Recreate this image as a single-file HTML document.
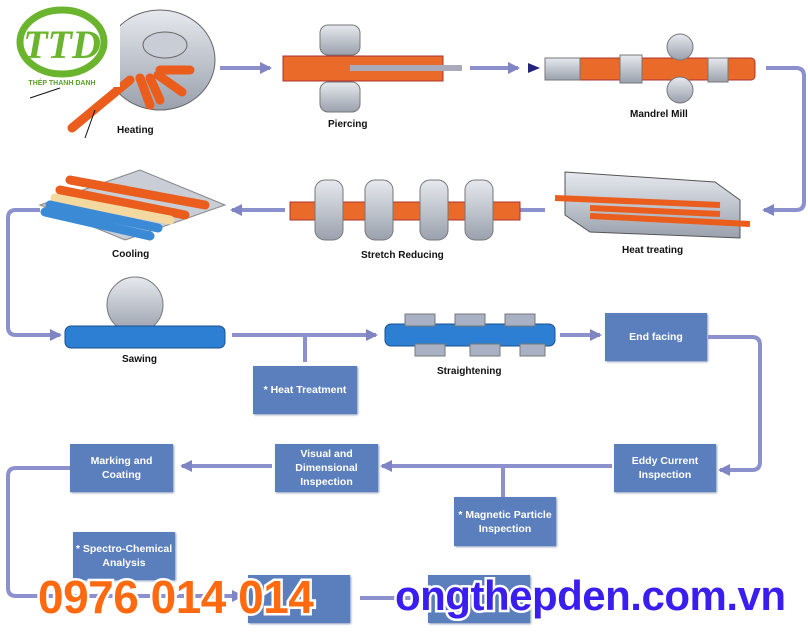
<!DOCTYPE html>
<html><head><meta charset="utf-8"><style>
body{margin:0;width:808px;height:632px;background:#fff;overflow:hidden;position:relative;font-family:"Liberation Sans",Arial,sans-serif}
.b{position:absolute;background:#5b7fbd;color:#fff;font-size:10.5px;font-weight:bold;text-align:center;display:flex;align-items:center;justify-content:center;line-height:14px;box-shadow:1px 1px 2px #8898b8}
.l{position:absolute;font-size:10px;font-weight:bold;color:#111}
.big{position:absolute;font-family:"Liberation Sans",Arial,sans-serif;font-weight:700;font-size:44px;letter-spacing:-1px;-webkit-text-stroke:5px #fff;paint-order:stroke fill;white-space:nowrap}
</style></head><body>
<svg width="808" height="632" style="position:absolute;left:0;top:0">
<defs>
<marker id="a" markerUnits="userSpaceOnUse" markerWidth="14" markerHeight="14" refX="10" refY="7" orient="auto"><path d="M0,1 L12,7 L0,13 Z" fill="#7f85c4"/></marker>
<linearGradient id="g" x1="0" y1="0" x2="0" y2="1"><stop offset="0" stop-color="#e6e9ee"/><stop offset="1" stop-color="#9aa1ad"/></linearGradient>
</defs>
<g stroke="#8c90cc" stroke-width="4" fill="none">
<line x1="220" y1="68" x2="270" y2="68" marker-end="url(#a)"/>
<line x1="470" y1="68" x2="518" y2="68" marker-end="url(#a)"/>
<path d="M766,68 H796 Q804,68 804,76 V202 Q804,210 796,210 H764" marker-end="url(#a)"/>
<line x1="545" y1="210" x2="502" y2="210" marker-end="url(#a)"/>
<line x1="285" y1="210" x2="232" y2="210" marker-end="url(#a)"/>
<path d="M40,210 H16 Q8,210 8,218 V327 Q8,335 16,335 H60" marker-end="url(#a)"/>
<line x1="232" y1="335" x2="376" y2="335" marker-end="url(#a)"/>
<line x1="305" y1="335" x2="305" y2="362"/>
<line x1="560" y1="335" x2="600" y2="335" marker-end="url(#a)"/>
<path d="M708,337 H752 Q760,337 760,345 V462 Q760,470 752,470 H720" marker-end="url(#a)"/>
<line x1="612" y1="466" x2="382" y2="466" marker-end="url(#a)"/>
<line x1="503" y1="466" x2="503" y2="497"/>
<line x1="272" y1="466" x2="182" y2="466" marker-end="url(#a)"/>
<path d="M70,468 H16 Q8,468 8,476 V588 Q8,596 16,596 H242" marker-end="url(#a)"/>
<line x1="360" y1="598" x2="420" y2="598"/>
</g>
<ellipse cx="160" cy="60" rx="55" ry="50" fill="url(#g)" stroke="#666"/>
<ellipse cx="165" cy="45" rx="22" ry="13" fill="#c9ced6" stroke="#666"/>
<g stroke="#ea5d1c" stroke-width="9" stroke-linecap="round">
<line x1="160" y1="70" x2="190" y2="70"/><line x1="158" y1="75" x2="182" y2="92"/><line x1="150" y1="78" x2="160" y2="100"/><line x1="140" y1="78" x2="150" y2="105"/><line x1="130" y1="80" x2="72" y2="128"/></g>
<line x1="30" y1="98" x2="60" y2="88" stroke="#111"/><line x1="95" y1="110" x2="85" y2="138" stroke="#111"/>
<rect x="283" y="56" width="160" height="25" fill="#ea6a2a" stroke="#a33"/>
<rect x="350" y="65" width="112" height="6" fill="#aab"/>
<rect x="320" y="25" width="40" height="30" rx="8" fill="url(#g)" stroke="#777"/>
<rect x="320" y="82" width="40" height="30" rx="8" fill="url(#g)" stroke="#777"/>
<path d="M528,63 L540,68 L528,73Z" fill="#23237a"/>
<rect x="545" y="58" width="210" height="22" rx="4" fill="#ea6a2a" stroke="#a33"/>
<rect x="545" y="58" width="35" height="22" fill="url(#g)" stroke="#777"/>
<rect x="620" y="55" width="22" height="28" fill="url(#g)" stroke="#777"/>
<rect x="708" y="58" width="20" height="24" fill="url(#g)" stroke="#777"/>
<circle cx="680" cy="47" r="13" fill="url(#g)" stroke="#777"/><circle cx="680" cy="90" r="13" fill="url(#g)" stroke="#777"/>
<path d="M565,172 L715,182 L740,200 L740,238 L590,232 L565,215Z" fill="url(#g)" stroke="#555"/>
<g stroke="#ea5d1c" stroke-width="6"><line x1="555" y1="198" x2="720" y2="205"/><line x1="590" y1="208" x2="720" y2="214"/><line x1="590" y1="216" x2="750" y2="224"/></g>
<rect x="290" y="202" width="230" height="18" fill="#ea6a2a" stroke="#a33"/>
<g fill="url(#g)" stroke="#777"><rect x="315" y="180" width="28" height="60" rx="10"/><rect x="365" y="180" width="28" height="60" rx="10"/><rect x="420" y="180" width="28" height="60" rx="10"/><rect x="465" y="180" width="28" height="60" rx="10"/></g>
<path d="M40,205 L140,170 L225,205 L125,240Z" fill="#c9cdd6" stroke="#888"/>
<g stroke-width="9" stroke-linecap="round"><line x1="70" y1="180" x2="205" y2="205" stroke="#ea5d1c"/><line x1="60" y1="190" x2="185" y2="215" stroke="#ea5d1c"/><line x1="55" y1="198" x2="170" y2="220" stroke="#f3d9a0"/><line x1="50" y1="205" x2="158" y2="228" stroke="#3a8ad6"/><line x1="45" y1="212" x2="150" y2="236" stroke="#3a8ad6"/></g>
<circle cx="135" cy="305" r="28" fill="url(#g)" stroke="#777"/>
<rect x="65" y="326" width="160" height="22" rx="6" fill="#2c7fd2" stroke="#1a5090"/>
<rect x="385" y="324" width="170" height="22" rx="6" fill="#2c7fd2" stroke="#1a5090"/>
<g fill="#a8b2c4" stroke="#777"><rect x="405" y="314" width="30" height="12"/><rect x="455" y="314" width="30" height="12"/><rect x="505" y="314" width="30" height="12"/><rect x="415" y="344" width="30" height="12"/><rect x="470" y="344" width="30" height="12"/><rect x="520" y="344" width="25" height="12"/></g>
<rect x="10" y="5" width="110" height="82" fill="#fff"/>
<ellipse cx="62" cy="42" rx="42" ry="32" fill="none" stroke="#6ab42e" stroke-width="7"/>
<text x="62" y="58" font-family="Liberation Serif" font-style="italic" font-weight="bold" font-size="40" fill="#6ab42e" text-anchor="middle">TTD</text>
<text x="62" y="85" font-size="7" font-weight="bold" fill="#5aa02a" text-anchor="middle">THÉP THANH DANH</text>
</svg>
<div class="l" style="left:117px;top:125px">Heating</div>
<div class="l" style="left:328px;top:119px">Piercing</div>
<div class="l" style="left:630px;top:109px">Mandrel Mill</div>
<div class="l" style="left:622px;top:245px">Heat treating</div>
<div class="l" style="left:361px;top:250px">Stretch Reducing</div>
<div class="l" style="left:112px;top:249px">Cooling</div>
<div class="l" style="left:122px;top:354px">Sawing</div>
<div class="l" style="left:437px;top:366px">Straightening</div>
<div class="b" style="left:253px;top:366px;width:104px;height:48px">* Heat Treatment</div>
<div class="b" style="left:605px;top:313px;width:102px;height:48px">End facing</div>
<div class="b" style="left:614px;top:444px;width:102px;height:48px">Eddy Current<br>Inspection</div>
<div class="b" style="left:275px;top:444px;width:103px;height:48px">Visual and<br>Dimensional<br>Inspection</div>
<div class="b" style="left:70px;top:444px;width:103px;height:48px">Marking and<br>Coating</div>
<div class="b" style="left:454px;top:497px;width:102px;height:49px">* Magnetic Particle<br>Inspection</div>
<div class="b" style="left:73px;top:532px;width:102px;height:48px">* Spectro-Chemical<br>Analysis</div>
<div class="b" style="left:248px;top:575px;width:102px;height:48px"></div>
<div class="b" style="left:428px;top:575px;width:102px;height:48px"></div>
<div class="big" style="left:38px;top:570px;color:#ff6a10;font-size:46px;letter-spacing:-0.5px">0976 014 014</div>
<div class="big" style="left:395px;top:572px;color:#3a1ef0;font-size:42px;letter-spacing:-0.5px">ongthepden.com.vn</div>
</body></html>
